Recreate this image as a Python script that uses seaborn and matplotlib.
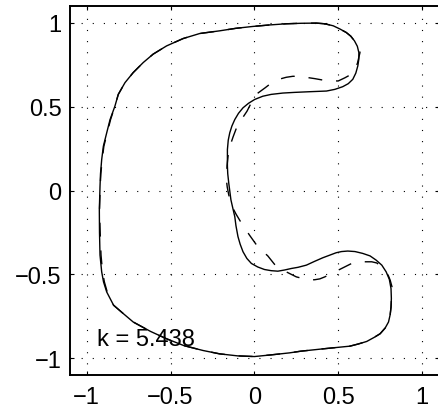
import matplotlib
matplotlib.use("Agg")
import matplotlib.pyplot as plt
import seaborn as sns
import pandas as pd

# Solid curve (closed), traced counter-clockwise from the top
solid_x = [0.42, 0.37, 0.28, 0.19, 0.09, -0.01, -0.11, -0.207, -0.326, -0.425, -0.524, -0.604,
           -0.663, -0.723, -0.772, -0.812, -0.832, -0.861, -0.881, -0.901, -0.911, -0.918,
           -0.921, -0.925, -0.924, -0.921, -0.911, -0.90, -0.881, -0.84, -0.782, -0.723,
           -0.62, -0.524, -0.42, -0.306, -0.207, -0.10, 0.00, 0.10, 0.21, 0.277, 0.41, 0.57,
           0.62, 0.67, 0.714, 0.75, 0.78, 0.80, 0.81, 0.815, 0.817, 0.815, 0.805, 0.786, 0.76,
           0.726, 0.69, 0.646, 0.60, 0.557, 0.52, 0.488, 0.408, 0.36, 0.31, 0.26, 0.22, 0.18,
           0.14, 0.10, 0.06, 0.02, -0.018, -0.045, -0.068, -0.085, -0.098, -0.11, -0.117,
           -0.13, -0.14, -0.153, -0.159, -0.161, -0.161, -0.156, -0.147, -0.134, -0.117,
           -0.095, -0.068, -0.035, 0.002, 0.05, 0.10, 0.17, 0.24, 0.33, 0.43, 0.48, 0.527,
           0.56, 0.587, 0.605, 0.617, 0.623, 0.623, 0.614, 0.597, 0.575, 0.548, 0.51, 0.47]
solid_y = [0.994, 0.998, 0.997, 0.994, 0.987, 0.978, 0.967, 0.952, 0.936, 0.906, 0.862, 0.813,
           0.763, 0.703, 0.643, 0.573, 0.503, 0.423, 0.344, 0.264, 0.184, 0.10, 0.024, -0.116,
           -0.25, -0.385, -0.485, -0.545, -0.605, -0.684, -0.734, -0.784, -0.84, -0.884,
           -0.925, -0.954, -0.974, -0.986, -0.99, -0.98, -0.968, -0.958, -0.944, -0.928,
           -0.915, -0.90, -0.876, -0.854, -0.82, -0.784, -0.74, -0.695, -0.644, -0.585,
           -0.53, -0.485, -0.445, -0.415, -0.39, -0.375, -0.364, -0.361, -0.364, -0.371,
           -0.401, -0.422, -0.445, -0.458, -0.465, -0.474, -0.481, -0.478, -0.471, -0.456,
           -0.435, -0.405, -0.365, -0.32, -0.275, -0.21, -0.156, -0.10, -0.056, 0.044, 0.10,
           0.144, 0.244, 0.30, 0.344, 0.385, 0.423, 0.46, 0.493, 0.52, 0.543, 0.562, 0.573,
           0.581, 0.585, 0.589, 0.593, 0.603, 0.619, 0.637, 0.663, 0.70, 0.743, 0.783, 0.823,
           0.86, 0.892, 0.92, 0.942, 0.963, 0.982]

# Dashed curve (closed)
dashed_x = [0.42, 0.37, 0.28, 0.19, 0.09, -0.01, -0.11, -0.207, -0.326, -0.425, -0.524, -0.604,
            -0.663, -0.723, -0.772, -0.812, -0.832, -0.858, -0.878, -0.898, -0.908, -0.916,
            -0.92, -0.924, -0.92, -0.915, -0.906, -0.895, -0.878, -0.84, -0.782, -0.723,
            -0.62, -0.524, -0.42, -0.306, -0.207, -0.10, 0.00, 0.10, 0.21, 0.277, 0.41, 0.57,
            0.62, 0.67, 0.714, 0.75, 0.78, 0.80, 0.81, 0.815, 0.818, 0.821, 0.81, 0.80, 0.78,
            0.76, 0.73, 0.70, 0.64, 0.59, 0.55, 0.48, 0.42, 0.39, 0.36, 0.335, 0.31, 0.25,
            0.18, 0.12, 0.08, 0.02, -0.03, -0.077, -0.11, -0.133, -0.153, -0.162, -0.167,
            -0.163, -0.153, -0.127, -0.108, -0.088, -0.044, -0.02, 0.002, 0.065, 0.10, 0.146,
            0.19, 0.23, 0.27, 0.32, 0.36, 0.405, 0.45, 0.50, 0.54, 0.571, 0.60, 0.615, 0.63,
            0.614, 0.597, 0.575, 0.548, 0.51, 0.47]
dashed_y = [0.994, 0.998, 0.997, 0.994, 0.987, 0.978, 0.967, 0.952, 0.936, 0.906, 0.862, 0.813,
            0.763, 0.703, 0.643, 0.573, 0.503, 0.423, 0.344, 0.264, 0.184, 0.10, 0.024, -0.116,
            -0.25, -0.385, -0.485, -0.545, -0.605, -0.684, -0.734, -0.784, -0.84, -0.884,
            -0.925, -0.954, -0.974, -0.986, -0.99, -0.98, -0.968, -0.958, -0.944, -0.928,
            -0.915, -0.90, -0.876, -0.854, -0.82, -0.784, -0.74, -0.695, -0.64, -0.575,
            -0.535, -0.51, -0.475, -0.455, -0.432, -0.425, -0.425, -0.43, -0.45, -0.485,
            -0.515, -0.527, -0.532, -0.533, -0.53, -0.515, -0.48, -0.44, -0.39, -0.335,
            -0.265, -0.195, -0.14, -0.096, -0.026, 0.02, 0.064, 0.15, 0.244, 0.32, 0.37,
            0.407, 0.473, 0.52, 0.567, 0.613, 0.64, 0.663, 0.675, 0.681, 0.68, 0.673, 0.667,
            0.659, 0.654, 0.653, 0.672, 0.689, 0.72, 0.76, 0.823, 0.86, 0.892, 0.92, 0.942,
            0.963, 0.982]

x_ticks = [-1, -0.5, 0, 0.5, 1]
y_ticks = [-1, -0.5, 0, 0.5, 1]
x_tick_labels = ["\u22121", "\u22120.5", "0", "0.5", "1"]
y_tick_labels = ["\u22121", "\u22120.5", "0", "0.5", "1"]
annotation = "k = 5.438"

sns.set_theme(style="white")
plt.rcParams["font.family"] = ["Liberation Sans", "DejaVu Sans"]

fig = plt.figure(figsize=(4.38, 4.14), dpi=100)
ax = fig.add_axes([70 / 438, 38 / 414, 368.8 / 438, 369 / 414])

solid_df = pd.DataFrame({"x": solid_x + solid_x[:1], "y": solid_y + solid_y[:1]})
dashed_df = pd.DataFrame({"x": dashed_x + dashed_x[:1], "y": dashed_y + dashed_y[:1]})

sns.lineplot(data=dashed_df, x="x", y="y", sort=False, estimator=None, ax=ax,
             color="black", linewidth=1.0, linestyle=(0, (10, 10)),
             solid_joinstyle="round", dash_joinstyle="round")
sns.lineplot(data=solid_df, x="x", y="y", sort=False, estimator=None, ax=ax,
             color="black", linewidth=1.0, solid_joinstyle="round")

ax.set_xlim(-1.1, 1.1)
ax.set_ylim(-1.1, 1.1)
ax.set_xticks(x_ticks)
ax.set_xticklabels(x_tick_labels)
ax.set_yticks(y_ticks)
ax.set_yticklabels(y_tick_labels)
ax.set_xlabel("")
ax.set_ylabel("")

ax.grid(True, color="black", linewidth=0.8, linestyle=(0, (1, 9)))
ax.set_axisbelow(True)
for s in ax.spines.values():
    s.set_visible(True)
    s.set_color("black")
    s.set_linewidth(1.4)
ax.spines["right"].set_visible(False)

ax.tick_params(axis="both", which="both", direction="in", length=3, width=0.8,
               color="black", labelsize=17, labelcolor="black",
               top=True, right=True, bottom=True, left=True)
ax.tick_params(axis="x", pad=8)
ax.tick_params(axis="y", pad=6)

ax.text(-0.94, -0.924, annotation, fontsize=17, ha="left", va="baseline", color="black")

fig.savefig("out.png", dpi=100)
